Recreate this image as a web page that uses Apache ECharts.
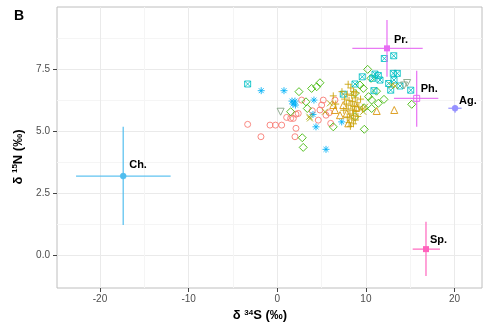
<!DOCTYPE html>
<html><head><meta charset="utf-8">
<script src="https://cdn.jsdelivr.net/npm/echarts@6/dist/echarts.min.js"></script>
<style>html,body{margin:0;padding:0;background:#fff}#c{width:494px;height:330px}</style>
</head><body><div id="c"></div>
<script>
// ---- tick labels ----
const xTicks = [-20, -10, 0, 10, 20];
const yTicks = [0, 2.5, 5, 7.5];
const xMinorTicks = [-15, -5, 5, 15];
const yMinorTicks = [1.25, 3.75, 6.25, 8.75];

// ---- consumer groups [d34S, d15N] ----
const groupCircles = [[-3.34,5.28],[-1.84,4.78],[-0.82,5.25],[-0.2,5.25],[0.5,5.25],[1.06,5.56],[1.51,5.52],[1.81,5.52],[2.11,5.69],[2.37,5.72],[2.75,6.26],[2.11,5.12],[2.0,4.78],[3.95,5.83],[4.63,5.45],[5.01,6.06],[5.19,6.26],[4.82,5.86],[5.5,5.65],[5.87,5.75],[6.03,5.32],[6.51,6.26]];
const groupTriangles = [[6.32,6.06],[6.51,5.86],[7.08,5.65],[7.45,6.06],[8.01,5.32],[7.83,5.72],[11.22,5.82],[13.2,5.86],[8.96,5.97]];
const groupPlus = [[8.0,6.9],[8.3,6.75],[8.6,6.6],[7.9,6.5],[8.4,6.45],[8.8,6.35],[7.6,6.3],[8.1,6.25],[8.5,6.2],[9.0,6.15],[7.8,6.1],[8.3,6.05],[8.7,6.0],[9.2,5.98],[8.0,5.9],[8.5,5.85],[8.9,5.8],[7.5,5.85],[8.2,5.7],[8.6,5.65],[9.1,5.6],[7.9,5.55],[8.4,5.5],[8.8,5.45],[8.1,5.35],[8.6,5.3],[6.32,6.43],[6.6,6.1],[9.6,5.9],[7.3,6.6],[8.9,6.55],[9.4,6.3],[8.25,5.2]];
const groupCross = [[3.69,5.52],[3.61,5.59],[5.95,6.13],[5.38,5.79],[9.7,5.79],[9.9,5.99],[12.9,6.87],[13.3,6.83]];
const groupDiamonds = [[2.45,6.6],[3.88,6.73],[4.45,6.8],[4.82,6.96],[3.24,6.19],[3.39,5.92],[1.51,5.79],[2.82,4.74],[2.93,4.35],[6.32,5.18],[8.77,5.59],[9.82,5.08],[10.2,7.5],[10.58,7.14],[12.04,6.29],[15.17,6.09],[9.33,6.87],[9.71,6.73],[10.65,6.26],[10.65,5.92],[11.4,6.13],[8.77,6.53],[11.2,6.62],[10.3,6.4],[9.8,5.95]];
const groupInvTriangles = [[0.38,5.79],[14.3,6.85],[14.65,6.95]];
const groupSquareX = [[-3.34,6.91],[12.08,7.94],[13.14,8.05],[11.03,7.31],[11.4,7.25],[11.59,7.07],[13.09,7.34],[13.54,7.34],[13.17,7.07],[12.57,6.93],[12.8,6.66],[13.85,6.83],[15.06,6.66],[9.59,7.2],[8.77,6.91],[10.91,6.64],[7.45,6.5],[10.77,7.14]];
const groupAsterisks = [[-1.81,6.64],[0.76,6.64],[1.66,6.22],[2.0,6.22],[2.05,6.06],[1.77,6.1],[4.14,6.26],[4.03,5.68],[4.37,5.18],[5.5,4.27],[7.27,5.38]];

// ---- sources: mean and ranges ----
const sourceNames = ['Ch.', 'Pr.', 'Ph.', 'Ag.', 'Sp.'];
const sourceX   = [-17.38, 12.38, 15.73, 20.06, 16.78];
const sourceY   = [3.19, 8.35, 6.33, 5.93, 0.24];
const sourceXLo = [-22.7, 8.47, 13.17, 19.3, 15.28];
const sourceXHi = [-12.03, 16.41, 18.17, 20.8, 18.36];
const sourceYLo = [1.21, 7.2, 5.18, 5.75, -0.85];
const sourceYHi = [5.18, 9.49, 7.44, 6.06, 1.35];

// ---- styles ----
const sourceStyle = {
  'Ch.': {color:'#4FBDEE', marker:'circle', fill:true},
  'Pr.': {color:'#E76BF3', marker:'square', fill:true},
  'Ph.': {color:'#E76BF3', marker:'square', fill:false},
  'Ag.': {color:'#9590FF', marker:'circle', fill:true},
  'Sp.': {color:'#FF62BC', marker:'square', fill:true}
};
const labelOffset = {'Ch.':[6,-11], 'Pr.':[7,-8], 'Ph.':[4,-9], 'Ag.':[4,-7], 'Sp.':[4,-9]};

const P_PLUS = 'path://M5,0 L5,10 M0,5 L10,5';
const P_CROSS = 'path://M0,0 L10,10 M10,0 L0,10';
const P_INV = 'path://M0,0 L10,0 L5,8.66 Z';
const P_SQX = 'path://M0,0 L10,0 L10,10 L0,10 Z M0,0 L10,10 M10,0 L0,10';
const P_AST = 'path://M5,0 L5,10 M0,5 L10,5 M1.5,1.5 L8.5,8.5 M8.5,1.5 L1.5,8.5';

function hollow(name, data, symbol, color, size) {
  return {
    name, type:'scatter', data, symbol, symbolSize:size,
    xAxisIndex:0, yAxisIndex:0,
    itemStyle:{color:'rgba(0,0,0,0)', borderColor:color, borderWidth:0.9, opacity:0.95},
    emphasis:{disabled:true}, z:3
  };
}

const sourceData = sourceNames.map((n,i)=>[sourceX[i], sourceY[i], sourceXLo[i], sourceXHi[i], sourceYLo[i], sourceYHi[i], i]);

const chart = echarts.init(document.getElementById('c'), null, {renderer:'canvas'});
const fontFam = '"Liberation Sans", Arial, Helvetica, sans-serif';
chart.setOption({
  animation:false,
  backgroundColor:'#fff',
  title:{text:'B', left:9, top:4, textStyle:{fontSize:14, fontWeight:'bold', color:'#000', fontFamily:fontFam}},
  grid:{left:57, top:7, right:12, bottom:42, show:true, borderColor:'#BEBEBE', borderWidth:1, backgroundColor:'#fff'},
  xAxis:[{
    type:'value', min:-24.85, max:23.1, gridIndex:0, position:'bottom',
    axisLine:{show:false, onZero:false},
    axisTick:{show:true, length:4, customValues:xTicks, lineStyle:{color:'#444', width:1}},
    axisLabel:{customValues:xTicks, margin:6, color:'#4D4D4D', fontSize:10, fontFamily:fontFam},
    splitLine:{show:true, lineStyle:{color:'#EAEAEA', width:1}},
    name:'{d|δ }{s|34}{n|S (‰)}', nameLocation:'middle', nameGap:20,
    nameTextStyle:{padding:[0,19,0,0], rich:{
      d:{fontSize:13, fontWeight:'bold', color:'#000', fontFamily:fontFam},
      s:{fontSize:8, fontWeight:'bold', color:'#000', fontFamily:fontFam, padding:[0,0,6,0]},
      n:{fontSize:13, fontWeight:'bold', color:'#000', fontFamily:fontFam}}}
  },{
    type:'value', min:-24.85, max:23.1, gridIndex:0, position:'top',
    axisLine:{show:false, onZero:false}, axisLabel:{show:false},
    axisTick:{show:false, customValues:xMinorTicks},
    splitLine:{show:true, lineStyle:{color:'#F5F5F5', width:1}}
  }],
  yAxis:[{
    type:'value', min:-1.33, max:10.02, gridIndex:0, position:'left',
    axisLine:{show:false, onZero:false},
    axisTick:{show:true, length:4, customValues:yTicks, lineStyle:{color:'#444', width:1}},
    axisLabel:{customValues:yTicks, margin:7, color:'#4D4D4D', fontSize:10, fontFamily:fontFam, formatter:v=>v.toFixed(1)},
    splitLine:{show:true, lineStyle:{color:'#EAEAEA', width:1}},
    name:'{d|δ }{s|15}{n|N (‰)}', nameLocation:'middle', nameGap:32,
    nameTextStyle:{padding:[0,19,0,0], rich:{
      d:{fontSize:13, fontWeight:'bold', color:'#000', fontFamily:fontFam},
      s:{fontSize:8, fontWeight:'bold', color:'#000', fontFamily:fontFam, padding:[0,0,6,0]},
      n:{fontSize:13, fontWeight:'bold', color:'#000', fontFamily:fontFam}}}
  },{
    type:'value', min:-1.33, max:10.02, gridIndex:0, position:'right',
    axisLine:{show:false, onZero:false}, axisLabel:{show:false},
    axisTick:{show:false, customValues:yMinorTicks},
    splitLine:{show:true, lineStyle:{color:'#F5F5F5', width:1}}
  }],
  series:[
    hollow('circles', groupCircles, 'circle', '#F8766D', 6),
    hollow('diamonds', groupDiamonds, 'diamond', '#39B600', 8),
    hollow('squareX', groupSquareX, P_SQX, '#00BFC4', 6),
    hollow('asterisks', groupAsterisks, P_AST, '#00B0F6', 7),
    hollow('invtri', groupInvTriangles, P_INV, '#7FA07F', 7),
    hollow('triangles', groupTriangles, 'triangle', '#D89000', 7),
    hollow('cross', groupCross, P_CROSS, '#A3A500', 6),
    hollow('plus', groupPlus, P_PLUS, '#C9A000', 7),
    {
      type:'custom', name:'sources', data:sourceData, xAxisIndex:0, yAxisIndex:0,
      encode:{x:[0,2,3], y:[1,4,5]}, z:5, clip:false,
      renderItem:function(params, api){
        const idx = api.value(6);
        const name = sourceNames[idx];
        const st = sourceStyle[name];
        const c = api.coord([api.value(0), api.value(1)]);
        const xl = api.coord([api.value(2), api.value(1)]);
        const xh = api.coord([api.value(3), api.value(1)]);
        const yl = api.coord([api.value(0), api.value(4)]);
        const yh = api.coord([api.value(0), api.value(5)]);
        const ls = {stroke:st.color, lineWidth:1.3, opacity:0.9};
        const children = [
          {type:'line', shape:{x1:xl[0], y1:xl[1], x2:xh[0], y2:xh[1]}, style:ls},
          {type:'line', shape:{x1:yl[0], y1:yl[1], x2:yh[0], y2:yh[1]}, style:ls}
        ];
        if (st.marker === 'circle') {
          children.push({type:'circle', shape:{cx:c[0], cy:c[1], r:3}, style:{fill:st.color, stroke:st.color, lineWidth:0.5}});
        } else {
          children.push({type:'rect', shape:{x:c[0]-3, y:c[1]-3, width:6, height:6},
            style:st.fill ? {fill:st.color} : {fill:'rgba(0,0,0,0)', stroke:st.color, lineWidth:1}});
        }
        const off = labelOffset[name];
        children.push({type:'text', style:{text:name, x:c[0]+off[0], y:c[1]+off[1], textVerticalAlign:'middle', textAlign:'left',
          fill:'#000', font:'bold 11px ' + fontFam}});
        return {type:'group', children};
      }
    }
  ]
});
</script>
</body></html>
